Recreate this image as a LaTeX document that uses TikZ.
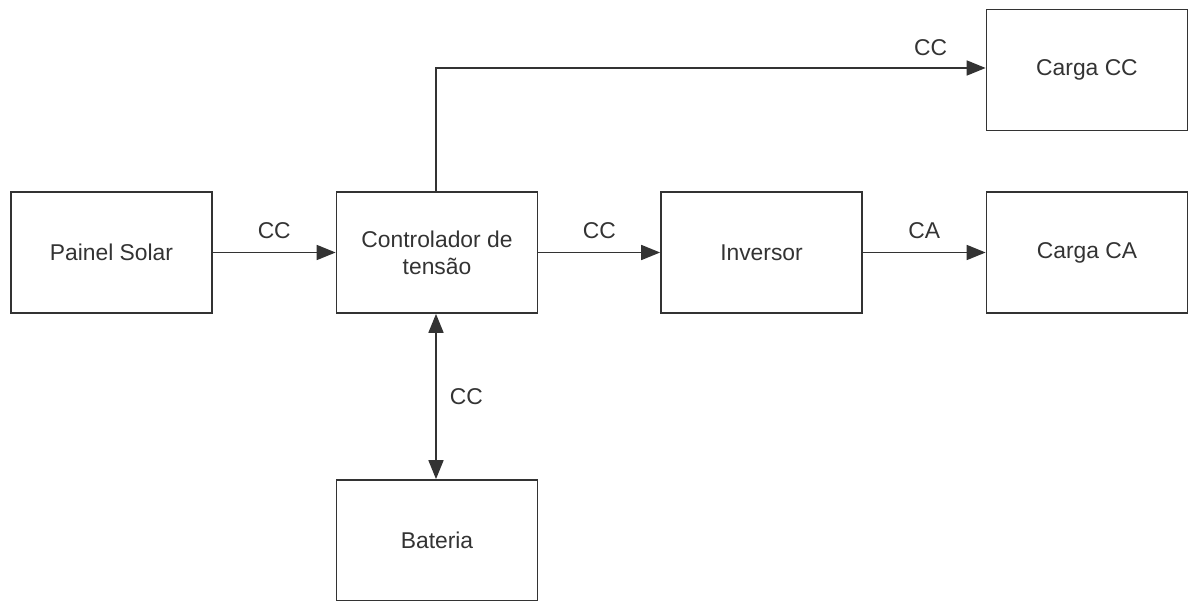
\documentclass[tikz,border=0pt]{standalone}
\usepackage{fontspec}
\setmainfont{Liberation Sans}
\usetikzlibrary{arrows.meta,positioning}
\tikzset{
    line color/.style={black!80},
    block/.style={draw,line color,line width=1pt,minimum width=4.02cm,minimum height=2.42cm,align=center,inner sep=0pt,font=\fontsize{13}{15.5}\selectfont},
    arr/.style={->,>={Triangle[length=0.38cm,width=0.3cm]},line color,line width=1pt},
    darr/.style={<->,>={Triangle[length=0.38cm,width=0.3cm]},line color,line width=1pt},
    lbl/.style={font=\fontsize{13}{15.5}\selectfont},
}
\begin{document}
\begin{tikzpicture}[x=0.02cm,y=-0.02cm]
        \useasboundingbox (0,0) rectangle (1191,601);
        \node[block] (painel) at (111.5,252.5) {Painel Solar};
        \node[block] (controlador) at (437,252.5) {Controlador de\\tensão};
        \node[block] (inversor) at (761.5,252.5) {Inversor};
        \node[block] (cargaca) at (1087,252.5) {Carga CA};
        \node[block] (cargacc) at (1087,70) {Carga CC};
        \node[block] (bateria) at (437,540.5) {Bateria};

        \draw[arr] (painel) -- (controlador) node[lbl, midway, above=4pt] {CC};
        \draw[arr] (controlador) -- (inversor) node[lbl, midway, above=4pt] {CC};
        \draw[arr] (inversor) -- (cargaca) node[lbl, midway, above=4pt] {CA};
        \coordinate (canto) at (436,68);
        \draw[arr] (controlador.north -| canto) -- (canto) -- (canto -| cargacc.west) node[lbl, pos=0.9, above=3pt] {CC};
        \draw[darr] (controlador.south -| canto) -- (bateria.north -| canto) node[lbl, midway, right=4pt] {CC};
    \end{tikzpicture}
\end{document}
